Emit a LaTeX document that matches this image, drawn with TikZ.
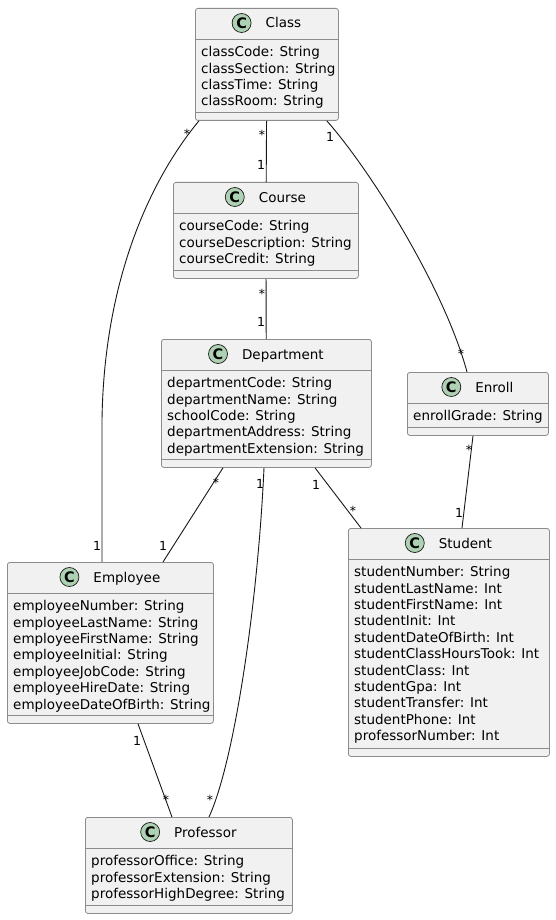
\documentclass[tikz,border=0pt]{standalone}
\usepackage{fontspec}
\setmainfont{DejaVu Sans}
\usepackage{xcolor}
\usetikzlibrary{positioning}
\definecolor{boxfill}{HTML}{F1F1F1}
\definecolor{boxedge}{HTML}{8C8C8C}
\definecolor{boxline}{HTML}{181818}
\definecolor{iconfill}{HTML}{ADD1B2}

\newcommand{\umlclass}[7]{%
	\node [classbox, minimum width=#4, minimum height=#5] (#1) at (#2, #3) {};
	\draw [classsep] ([yshift=-31pt]#1.north west) -- ([yshift=-31pt]#1.north east);
	\draw [classsep] ([yshift=8.5pt]#1.south west) -- ([yshift=8.5pt]#1.south east);
	\node [classtitle] (#1-title) at ([xshift=16.5pt, yshift=-20pt]#1.north) {#6};
	\node [classicon, left=14pt of #1-title] (#1-icon) {C};
	\node [classattr] (#1-attr) at ([xshift=6pt, yshift=-37pt]#1.north west) {\strut #7};
}

\begin{document}
\begin{tikzpicture}[x=1pt, y=-1pt,
	classbox/.style={draw=boxedge, line width=0.8pt, fill=boxfill, rounded corners=2.5pt, shape=rectangle, anchor=north west, inner sep=0},
	classsep/.style={draw=boxedge, line width=0.8pt},
	classtitle/.style={font=\fontsize{13.5}{16}\selectfont, anchor=base, inner sep=0, text height=10pt, text depth=0pt},
	classicon/.style={shape=circle, draw=boxline, line width=0.7pt, fill=iconfill, minimum size=19pt, inner sep=0, font=\bfseries\fontsize{14.5}{14.5}\selectfont},
	classattr/.style={font=\fontsize{13.5}{16.4}\selectfont, align=left, anchor=north west, inner sep=0},
	assoc/.style={draw=boxline, line width=0.9pt},
	mult/.style={font=\fontsize{12.5}{12.5}\selectfont, inner sep=0}]
	\path [use as bounding box, fill=white] (0, 0) rectangle (555, 920);

	\umlclass{class}{195}{8}{143}{112}{Class}{classCode: String\\classSection: String\\classTime: String\\classRoom: String}
	\umlclass{course}{173}{182}{185}{96}{Course}{courseCode: String\\courseDescription: String\\courseCredit: String}
	\umlclass{department}{161}{339}{210}{128}{Department}{departmentCode: String\\departmentName: String\\schoolCode: String\\departmentAddress: String\\departmentExtension: String}
	\umlclass{enroll}{407}{372}{141}{63}{Enroll}{enrollGrade: String}
	\umlclass{student}{348}{528}{201}{228}{Student}{studentNumber: String\\studentLastName: Int\\studentFirstName: Int\\studentInit: Int\\studentDateOfBirth: Int\\studentClassHoursTook: Int\\studentClass: Int\\studentGpa: Int\\studentTransfer: Int\\studentPhone: Int\\professorNumber: Int}
	\umlclass{employee}{7}{562}{206}{161}{Employee}{employeeNumber: String\\employeeLastName: String\\employeeFirstName: String\\employeeInitial: String\\employeeJobCode: String\\employeeHireDate: String\\employeeDateOfBirth: String}
	\umlclass{professor}{85}{817}{207}{96}{Professor}{professorOffice: String\\professorExtension: String\\professorHighDegree: String}

	\draw [assoc] ([xshift=4pt]class.south west) .. controls (150, 180) and (104, 280) .. (102, 420) -- ([xshift=95pt]employee.north west)
		node [mult] (m-ce-a) at (187, 134) {*} node [mult] (m-ce-b) at (97, 546) {1};
	\draw [assoc] (class) -- (course)
		node [mult] (m-cc-a) at (262, 135) {*} node [mult] (m-cc-b) at (261, 165) {1};
	\draw [assoc] ([xshift=-12pt]class.south east) .. controls (372, 172) and (445, 290) .. ([xshift=60pt]enroll.north west)
		node [mult] (m-cn-a) at (330, 137) {1} node [mult] (m-cn-b) at (461, 354) {*};
	\draw [assoc] (course) -- (department)
		node [mult] (m-cd-a) at (262, 294) {*} node [mult] (m-cd-b) at (261, 322) {1};
	\draw [assoc] ([xshift=62pt]department.south west) -- ([xshift=156pt]employee.north west)
		node [mult] (m-de-a) at (216, 483) {*} node [mult] (m-de-b) at (163, 546) {1};
	\draw [assoc] ([xshift=103pt]department.south west) .. controls (258, 600) and (235, 760) .. ([xshift=124pt]professor.north west)
		node [mult] (m-dp-a) at (260, 484) {1} node [mult] (m-dp-b) at (210, 800) {*};
	\draw [assoc] ([xshift=154pt]department.south west) -- ([xshift=13pt]student.north west)
		node [mult] (m-ds-a) at (316, 485) {1} node [mult] (m-ds-b) at (353, 511) {*};
	\draw [assoc] ([xshift=66pt]enroll.south west) -- ([xshift=114pt]student.north west)
		node [mult] (m-es-a) at (469, 450) {*} node [mult] (m-es-b) at (459, 513) {1};
	\draw [assoc] ([xshift=131pt]employee.south west) -- ([xshift=87pt]professor.north west)
		node [mult] (m-ep-a) at (137, 741) {1} node [mult] (m-ep-b) at (166, 800) {*};
\end{tikzpicture}
\end{document}
